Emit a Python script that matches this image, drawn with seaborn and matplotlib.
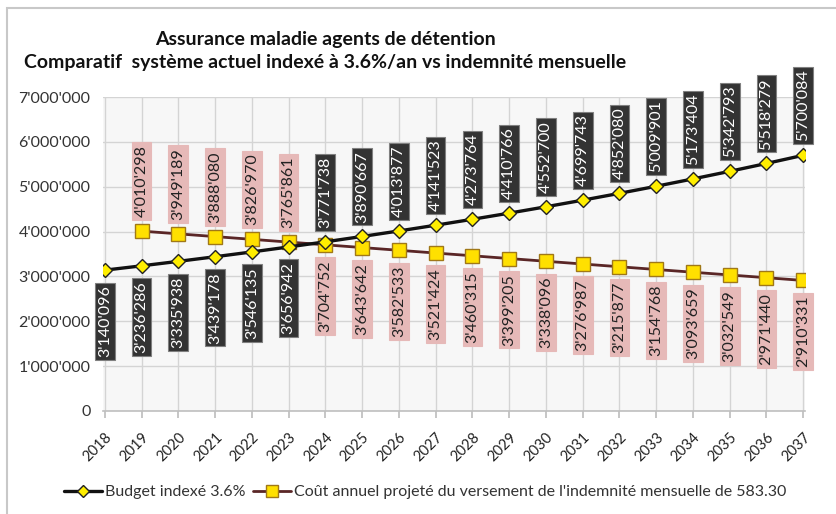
import matplotlib
matplotlib.use("Agg")
import matplotlib.pyplot as plt
import matplotlib.ticker as mticker
from matplotlib.lines import Line2D
from matplotlib.patches import Rectangle
import seaborn as sns
import pandas as pd

years = list(range(2018, 2038))
budget = [3140096, 3236286, 3335938, 3439178, 3546135, 3656942, 3771738, 3890667,
          4013877, 4141523, 4273764, 4410766, 4552700, 4699743, 4852080, 5009901,
          5173404, 5342793, 5518279, 5700084]
cost_years = list(range(2019, 2038))
cost = [4010298, 3949189, 3888080, 3826970, 3765861, 3704752, 3643642, 3582533,
        3521424, 3460315, 3399205, 3338096, 3276987, 3215877, 3154768, 3093659,
        3032549, 2971440, 2910331]

title = "Assurance maladie agents de détention\nComparatif  système actuel indexé à 3.6%/an vs indemnité mensuelle"
label_budget = "Budget indexé 3.6%"
label_cost = "Coût annuel projeté du versement de l'indemnité mensuelle de 583.30"

sns.set_theme(style="whitegrid")
plt.rcParams['font.family'] = ['Lato', 'DejaVu Sans']

def fmt(v):
    return f"{int(round(v)):,}".replace(",", "'")

df_b = pd.DataFrame({"pos": [y - 2018 for y in years], "val": budget})
df_c = pd.DataFrame({"pos": [y - 2018 for y in cost_years], "val": cost})

fig = plt.figure(figsize=(8.36, 5.14), dpi=100)
fig.patch.set_facecolor("white")
ax = fig.add_axes([103 / 836, 1 - 411 / 514, (805 - 103) / 836, (411 - 97) / 514])
ax.set_facecolor("#f7f7f7")

# frame around figure
fig.patches.append(Rectangle((7 / 836, -0.2), 1.2, 1.2 - 8 / 514, transform=fig.transFigure,
                             fill=False, edgecolor="#c8c8c8", linewidth=1.5))

col_cost_line = "#5a2626"
sns.lineplot(data=df_c, x="pos", y="val", ax=ax, color=col_cost_line, linewidth=2,
             marker="s", markersize=10, markerfacecolor="#ffe000",
             markeredgecolor="#a07818", markeredgewidth=1.0, zorder=3)
sns.lineplot(data=df_b, x="pos", y="val", ax=ax, color="#111111", linewidth=2.4,
             marker="D", markersize=7, markerfacecolor="#ffee00",
             markeredgecolor="#222222", markeredgewidth=1.0, zorder=4)

ax.set_xlim(-0.05, 19.05)
ax.set_ylim(0, 7000000)
ax.set_xticks(range(len(years)))
ax.set_xticklabels([str(y) for y in years], rotation=45, ha="right",
                   rotation_mode="anchor", fontsize=10.5, color="#222222")
ax.yaxis.set_major_locator(mticker.MultipleLocator(1000000))
ax.yaxis.set_major_formatter(mticker.FuncFormatter(lambda v, p: fmt(v)))
ax.tick_params(axis="y", labelsize=11.5, colors="#333333", length=0, pad=9)
ax.tick_params(axis="x", length=5, color="#bfbfbf", direction="out", pad=9,
               bottom=True)
ax.set_xlabel("")
ax.set_ylabel("")
ax.grid(True, color="#d4d4d4", linewidth=1)
for s in ["left", "top", "right"]:
    ax.spines[s].set_visible(False)
ax.spines["bottom"].set_color("#bfbfbf")
ax.spines["bottom"].set_linewidth(1.2)

box_dark = dict(boxstyle="square,pad=0.18", facecolor="#333333", edgecolor="#808080", linewidth=0.8)
box_pink = dict(boxstyle="square,pad=0.18", facecolor="#e6b9b8", edgecolor="#e6b9b8", linewidth=0.8)

for i, v in enumerate(budget):
    above = years[i] >= 2024
    ax.annotate(fmt(v), xy=(i, v), xytext=(0, 10 if above else -11),
                textcoords="offset points", rotation=90, ha="center",
                va="bottom" if above else "top", fontsize=11.5, color="white",
                bbox=box_dark, zorder=5, annotation_clip=False)

for y, v in zip(cost_years, cost):
    above = y <= 2023
    ax.annotate(fmt(v), xy=(y - 2018, v), xytext=(0, 10 if above else -11),
                textcoords="offset points", rotation=90, ha="center",
                va="bottom" if above else "top", fontsize=11.5, color="#222222",
                bbox=box_pink, zorder=5, annotation_clip=False)

fig.text(325 / 836, 1 - 51 / 514, title, ha="center", va="center", fontsize=14,
         fontweight="bold", color="#111111", linespacing=1.4)

handles = [
    Line2D([], [], color="#111111", linewidth=2.4, marker="D", markersize=6,
           markerfacecolor="#ffee00", markeredgecolor="#222222"),
    Line2D([], [], color=col_cost_line, linewidth=2, marker="s", markersize=8,
           markerfacecolor="#ffe000", markeredgecolor="#a07818"),
]
fig.legend(handles, [label_budget, label_cost], loc="center",
           bbox_to_anchor=(425 / 836, 1 - 492 / 514), ncol=2, frameon=False,
           fontsize=11.5, handlelength=2.4, handletextpad=0.15, columnspacing=0.5,
           labelcolor="#333333")

fig.savefig("out.png", dpi=100, facecolor="white")
